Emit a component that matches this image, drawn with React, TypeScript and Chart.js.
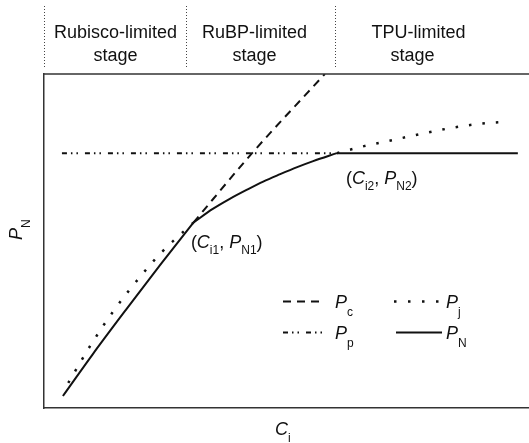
import React, { useEffect, useRef } from "react";
import { Chart, registerables } from "chart.js";

Chart.register(...registerables);

// ---- data (arbitrary units: Ci 0..100, PN 0..100) ----
const ciRubisco = [3.9, 10, 17, 24, 30.8];
const pnRubisco = [3.6, 16.0, 29.6, 42.9, 55.5];

const ciRuBP = [30.8, 34.8, 38.4, 41.9, 45.2, 48.7, 52.2, 55.5, 60.4];
const pnRuBP = [55.5, 59.6, 62.7, 65.4, 67.8, 70.0, 72.1, 73.9, 76.3];

const ciTPU = [60.4, 97.7];
const pnTPU = [76.3, 76.3];

const ciPc = [30.8, 42.9, 57.9];
const pnPc = [55.5, 76.3, 100];

const ciPjLow = [5.0, 9.7, 14.7, 20.0, 24.1, 28.6, 30.8];
const pnPjLow = [7.5, 19.0, 29.8, 39.6, 46.4, 52.6, 55.5];

const ciPjHigh = [60.4, 66.0, 71.8, 77.5, 83.4, 89.3, 95.1];
const pnPjHigh = [76.3, 78.4, 80.2, 82.0, 83.7, 85.0, 85.7];

const ciPp = [3.7, 60.4];
const pnPp = [76.3, 76.3];

const stageBounds = [0, 29.3, 60.0];
const stageLabels = [
  ["Rubisco-limited", "stage"],
  ["RuBP-limited", "stage"],
  ["TPU-limited", "stage"],
];

const FONT = '"Liberation Sans", Arial, sans-serif';
const INK = "#111";
const AXIS = "#333";

const DASH_PC = [8, 6];
const DASH_PJ = [2.5, 11];
const DASH_PP = [5, 4, 1.5, 4, 1.5, 7];

type Part = { t: string; it?: boolean; sub?: boolean };

function zip(xs: number[], ys: number[]) {
  return xs.map((x, i) => ({ x, y: ys[i] }));
}

function drawRich(ctx: CanvasRenderingContext2D, x: number, y: number, parts: Part[], subDy = 6) {
  let cx = x;
  ctx.textAlign = "left";
  ctx.textBaseline = "alphabetic";
  for (const p of parts) {
    const sz = p.sub ? 12 : 18;
    ctx.font = `${p.it ? "italic " : ""}${sz}px ${FONT}`;
    ctx.fillText(p.t, cx, y + (p.sub ? subDy : 0));
    cx += ctx.measureText(p.t).width;
  }
}

const overlay = {
  id: "overlay",
  afterDraw(chart: any) {
    const { ctx, chartArea: ca, scales } = chart;
    const xs = scales.x;
    const ys = scales.y;
    ctx.save();
    ctx.fillStyle = INK;

    // top frame line
    ctx.strokeStyle = AXIS;
    ctx.lineWidth = 1.5;
    ctx.beginPath();
    ctx.moveTo(ca.left, ca.top);
    ctx.lineTo(ca.right, ca.top);
    ctx.stroke();

    // stage separators
    ctx.strokeStyle = "#444";
    ctx.lineWidth = 1;
    ctx.setLineDash([1, 2]);
    for (const b of stageBounds) {
      const px = Math.round(xs.getPixelForValue(b)) + 0.5;
      ctx.beginPath();
      ctx.moveTo(px, 6);
      ctx.lineTo(px, ca.top - 5);
      ctx.stroke();
    }
    ctx.setLineDash([]);

    // stage labels
    ctx.font = `18px ${FONT}`;
    ctx.textAlign = "center";
    ctx.textBaseline = "alphabetic";
    const centers = [
      [115.5, 115.5],
      [254.5, 254.5],
      [418.5, 412.5],
    ];
    stageLabels.forEach((lines, i) => {
      ctx.fillText(lines[0], centers[i][0], 38);
      ctx.fillText(lines[1], centers[i][1], 61);
    });

    // point labels
    const p1x = xs.getPixelForValue(ciRubisco[ciRubisco.length - 1]);
    const p1y = ys.getPixelForValue(pnRubisco[pnRubisco.length - 1]);
    drawRich(ctx, p1x - 2.5, p1y + 25, [
      { t: "(" },
      { t: "C", it: true },
      { t: "i1", sub: true },
      { t: ", " },
      { t: "P", it: true },
      { t: "N1", sub: true },
      { t: ")" },
    ]);
    const p2x = xs.getPixelForValue(ciTPU[0]);
    const p2y = ys.getPixelForValue(pnTPU[0]);
    drawRich(ctx, p2x + 9, p2y + 31, [
      { t: "(" },
      { t: "C", it: true },
      { t: "i2", sub: true },
      { t: ", " },
      { t: "P", it: true },
      { t: "N2", sub: true },
      { t: ")" },
    ]);

    // axis titles
    drawRich(ctx, 275, 435, [{ t: "C", it: true }, { t: "i", sub: true }], 7);
    ctx.save();
    ctx.translate(21.5, 240);
    ctx.rotate(-Math.PI / 2);
    drawRich(ctx, 0, 0, [{ t: "P", it: true }, { t: "N", sub: true }], 8);
    ctx.restore();

    // legend
    const rows = [
      { y: 301, items: [
        { x0: 283, x1: 322, dash: DASH_PC, w: 2, tx: 335, sub: "c" },
        { x0: 394, x1: 440, dash: [2.5, 11.5], w: 2.5, tx: 446, sub: "j" },
      ] },
      { y: 332, items: [
        { x0: 283, x1: 328, dash: DASH_PP, w: 2, tx: 335, sub: "p" },
        { x0: 396, x1: 442, dash: [], w: 2, tx: 446, sub: "N" },
      ] },
    ];
    ctx.strokeStyle = INK;
    for (const r of rows) {
      for (const it of r.items) {
        ctx.lineWidth = it.w;
        ctx.setLineDash(it.dash);
        ctx.beginPath();
        ctx.moveTo(it.x0, r.y + 0.5);
        ctx.lineTo(it.x1, r.y + 0.5);
        ctx.stroke();
        ctx.setLineDash([]);
        drawRich(ctx, it.tx, r.y + 6.5, [{ t: "P", it: true }, { t: it.sub, sub: true }], 8);
      }
    }
    ctx.restore();
  },
};

export default function App() {
  const ref = useRef<HTMLCanvasElement | null>(null);
  useEffect(() => {
    if (!ref.current) return;
    const base = { pointRadius: 0, borderColor: INK, fill: false, tension: 0 };
    const chart = new Chart(ref.current, {
      type: "line",
      data: {
        datasets: [
          { ...base, label: "PN Rubisco", data: zip(ciRubisco, pnRubisco), borderWidth: 2, cubicInterpolationMode: "monotone" },
          { ...base, label: "PN RuBP", data: zip(ciRuBP, pnRuBP), borderWidth: 2, cubicInterpolationMode: "monotone" },
          { ...base, label: "PN TPU", data: zip(ciTPU, pnTPU), borderWidth: 2 },
          { ...base, label: "Pc", data: zip(ciPc, pnPc), borderWidth: 2, borderDash: DASH_PC, cubicInterpolationMode: "monotone" },
          { ...base, label: "Pj low", data: zip(ciPjLow, pnPjLow), borderWidth: 2.5, borderDash: DASH_PJ, cubicInterpolationMode: "monotone" },
          { ...base, label: "Pj high", data: zip(ciPjHigh, pnPjHigh), borderWidth: 2.5, borderDash: DASH_PJ, cubicInterpolationMode: "monotone" },
          { ...base, label: "Pp", data: zip(ciPp, pnPp), borderWidth: 2, borderDash: DASH_PP },
        ] as any,
      },
      options: {
        animation: false,
        responsive: false,
        devicePixelRatio: 1,
        layout: { padding: { left: 44, top: 74, right: 0, bottom: 35 } },
        plugins: { legend: { display: false }, tooltip: { enabled: false } },
        scales: {
          x: {
            type: "linear",
            min: 0,
            max: 100,
            ticks: { display: false },
            grid: { display: false, drawTicks: false },
            border: { display: true, color: AXIS, width: 1.5 },
          },
          y: {
            type: "linear",
            min: 0,
            max: 100,
            ticks: { display: false },
            grid: { display: false, drawTicks: false },
            border: { display: true, color: AXIS, width: 1.5 },
          },
        },
      },
      plugins: [overlay],
    });
    return () => chart.destroy();
  }, []);
  return (
    <div style={{ position: "fixed", left: 0, top: 0, width: 529, height: 443, background: "#fff" }}>
      <canvas ref={ref} width={529} height={443} style={{ display: "block" }} />
    </div>
  );
}
